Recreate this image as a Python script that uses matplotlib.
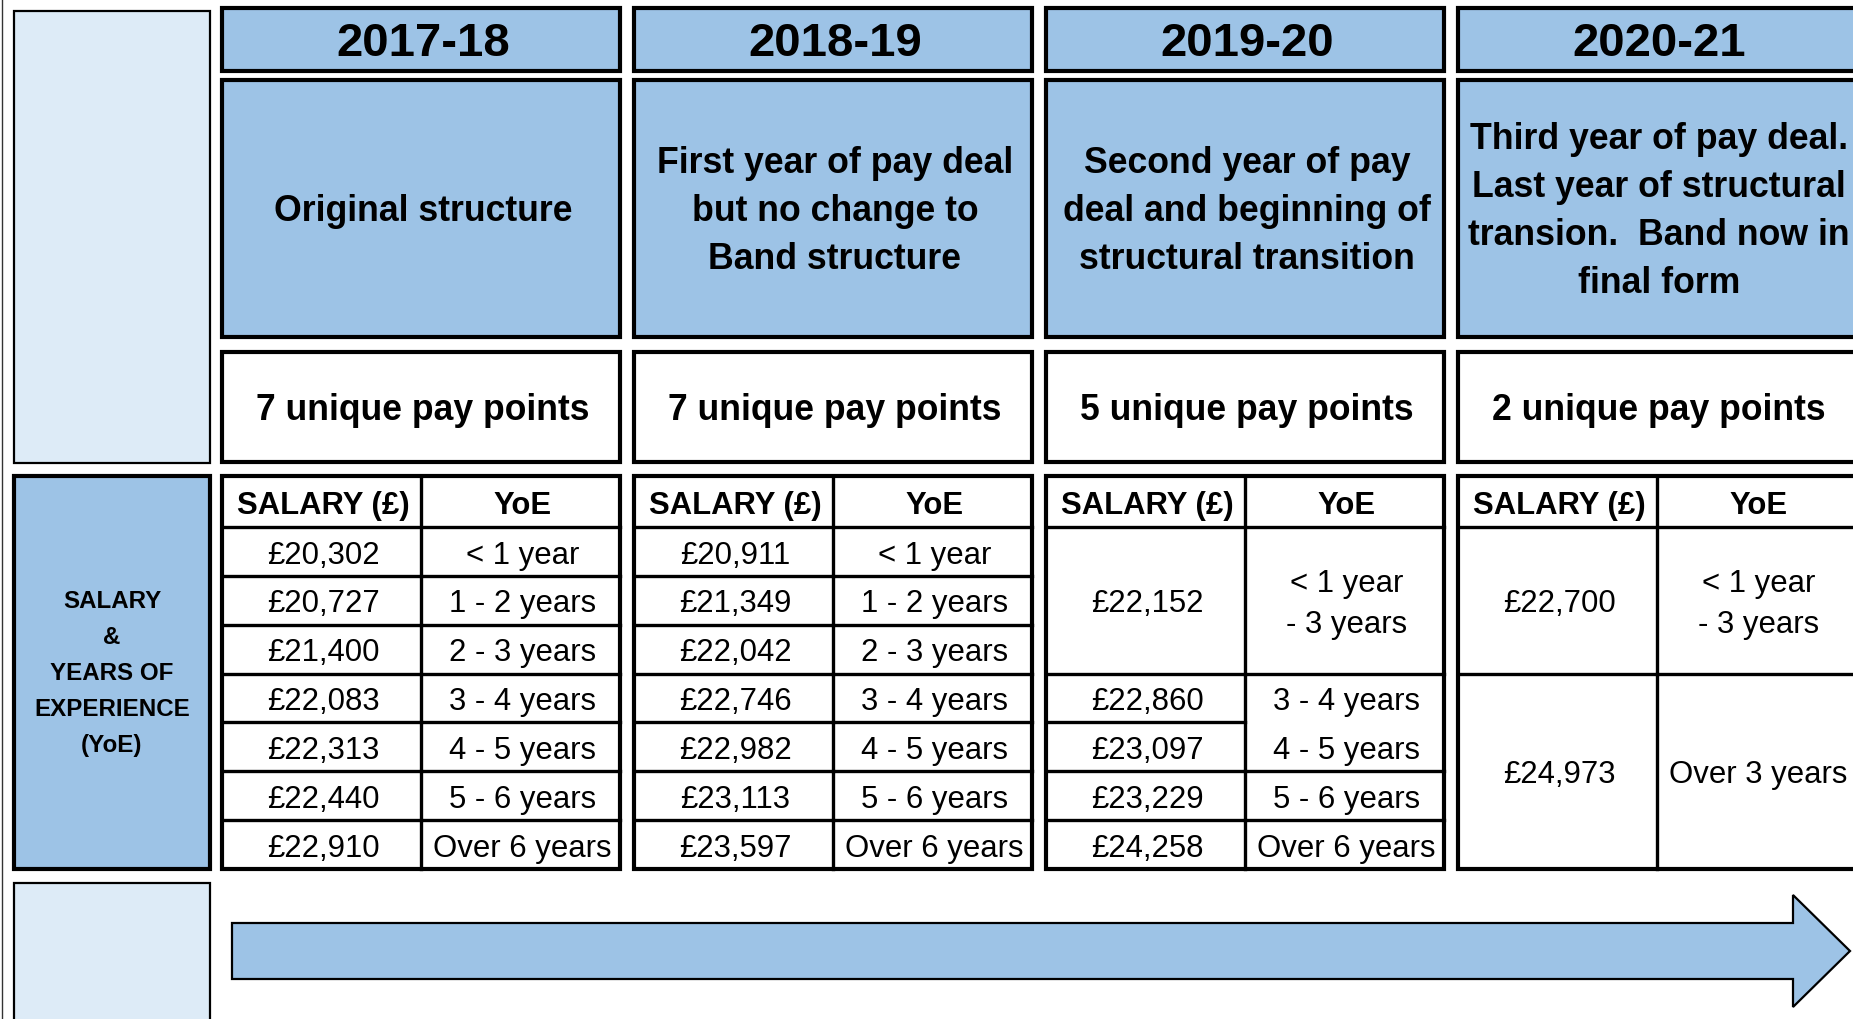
import matplotlib
matplotlib.use("Agg")
import matplotlib.pyplot as plt
from matplotlib.patches import Rectangle, Polygon

plt.rcParams['font.family'] = ['Liberation Sans', 'DejaVu Sans']

# --- data ---
years = ['2017-18', '2018-19', '2019-20', '2020-21']
descriptions = [
    'Original structure',
    'First year of pay deal\nbut no change to\nBand structure',
    'Second year of pay\ndeal and beginning of\nstructural transition',
    'Third year of pay deal.\nLast year of structural\ntransion.  Band now in\nfinal form',
]
pay_points = [7, 7, 5, 2]

yoe_7 = ['< 1 year', '1 - 2 years', '2 - 3 years', '3 - 4 years',
         '4 - 5 years', '5 - 6 years', 'Over 6 years']

sal_1718 = ['£20,302', '£20,727', '£21,400', '£22,083', '£22,313', '£22,440', '£22,910']
sal_1819 = ['£20,911', '£21,349', '£22,042', '£22,746', '£22,982', '£23,113', '£23,597']
sal_1920 = ['£22,152', '£22,860', '£23,097', '£23,229', '£24,258']
sal_1920_span = [3, 1, 1, 1, 1]
yoe_1920 = ['< 1 year\n- 3 years', '3 - 4 years\n4 - 5 years', '5 - 6 years', 'Over 6 years']
yoe_1920_span = [3, 2, 1, 1]
sal_2021 = ['£22,700', '£24,973']
sal_2021_span = [3, 4]
yoe_2021 = ['< 1 year\n- 3 years', 'Over 3 years']
yoe_2021_span = [3, 4]

salaries = [(sal_1718, [1] * 7), (sal_1819, [1] * 7), (sal_1920, sal_1920_span), (sal_2021, sal_2021_span)]
yoes = [(yoe_7, [1] * 7), (yoe_7, [1] * 7), (yoe_1920, yoe_1920_span), (yoe_2021, yoe_2021_span)]

side_label = 'SALARY\n&\nYEARS OF\nEXPERIENCE\n(YoE)'

BLUE = '#9dc3e6'
LIGHT = '#ddebf7'

W, H = 1853, 1019
fig = plt.figure(figsize=(W / 100, H / 100), dpi=100)
ax = fig.add_axes([0, 0, 1, 1])
ax.set_xlim(0, W)
ax.set_ylim(H, 0)
ax.axis('off')


def put(x, yc, s, fs, bold=False, step=None, base=0.36):
    lines = s.split('\n')
    n = len(lines)
    px = fs * 100 / 72
    if step is None:
        step = px * 1.35
    for i, line in enumerate(lines):
        y = yc + (i - (n - 1) / 2) * step + base * px
        ax.text(x + 2, y, line, ha='center', va='baseline', fontsize=fs,
                fontweight='bold' if bold else 'normal', color='black')


def box(x, y, w, h, fc, lw):
    ax.add_patch(Rectangle((x, y), w, h, facecolor=fc, edgecolor='black', lw=lw))


# thin page edge on the left
ax.plot([2, 2], [0, H], color='#333333', lw=1)

# left side panels
box(14, 11, 196, 452, LIGHT, 1.6)
box(14, 476, 196, 393, BLUE, 3)
box(14, 883, 196, 140, LIGHT, 1.6)
put(110, 671, side_label, 17.4, bold=True, step=36)

col_x0 = 222
col_w = 398
col_gap = 412
head_top, head_bot = 8, 71
desc_top, desc_bot = 80, 337
pp_top, pp_bot = 352, 462
tab_top, tab_head, tab_bot = 476, 527, 869
row_h = (tab_bot - tab_head) / 7

for k, yr in enumerate(years):
    x0 = col_x0 + k * col_gap
    xm = x0 + col_w / 2
    box(x0, head_top, col_w, head_bot - head_top, BLUE, 3)
    put(xm, (head_top + head_bot) / 2, yr, 34, bold=True, base=0.35)
    box(x0, desc_top, col_w, desc_bot - desc_top, BLUE, 3)
    put(xm, (desc_top + desc_bot) / 2, descriptions[k], 25.7, bold=True, step=48)
    box(x0, pp_top, col_w, pp_bot - pp_top, 'white', 3)
    put(xm, (pp_top + pp_bot) / 2, f'{pay_points[k]} unique pay points', 25.6, bold=True)

    # salary table
    box(x0, tab_top, col_w, tab_bot - tab_top, 'white', 3)
    ax.plot([xm, xm], [tab_top, tab_bot], color='black', lw=2.4)
    ax.plot([x0, x0 + col_w], [tab_head, tab_head], color='black', lw=2.4)
    put(x0 + col_w / 4, (tab_top + tab_head) / 2, 'SALARY (£)', 22.3, bold=True, base=0.39)
    put(x0 + 3 * col_w / 4, (tab_top + tab_head) / 2, 'YoE', 22.3, bold=True, base=0.39)

    for sub, (cells, spans) in enumerate([salaries[k], yoes[k]]):
        sx0 = x0 + sub * col_w / 2
        sxm = sx0 + col_w / 4
        r = 0
        for txt, sp in zip(cells, spans):
            y0 = tab_head + r * row_h
            y1 = y0 + sp * row_h
            lines = txt.split('\n')
            if sp > 1 and len(lines) == sp:
                put(sxm, (y0 + y1) / 2, txt, 22.4, step=row_h, base=0.39)
            else:
                put(sxm, (y0 + y1) / 2, txt, 22.4, step=41, base=0.39)
            r += sp
            if r < 7:
                ax.plot([sx0, sx0 + col_w / 2], [y1, y1], color='black', lw=2.4)

# timeline arrow
shaft_top, shaft_bot = 923, 979
ax.add_patch(Polygon([(232, shaft_top), (1793, shaft_top), (1793, 895), (1850, 951),
                      (1793, 1007), (1793, shaft_bot), (232, shaft_bot)],
                     closed=True, facecolor=BLUE, edgecolor='black', lw=1.6))

fig.savefig('out.png', dpi=100)
